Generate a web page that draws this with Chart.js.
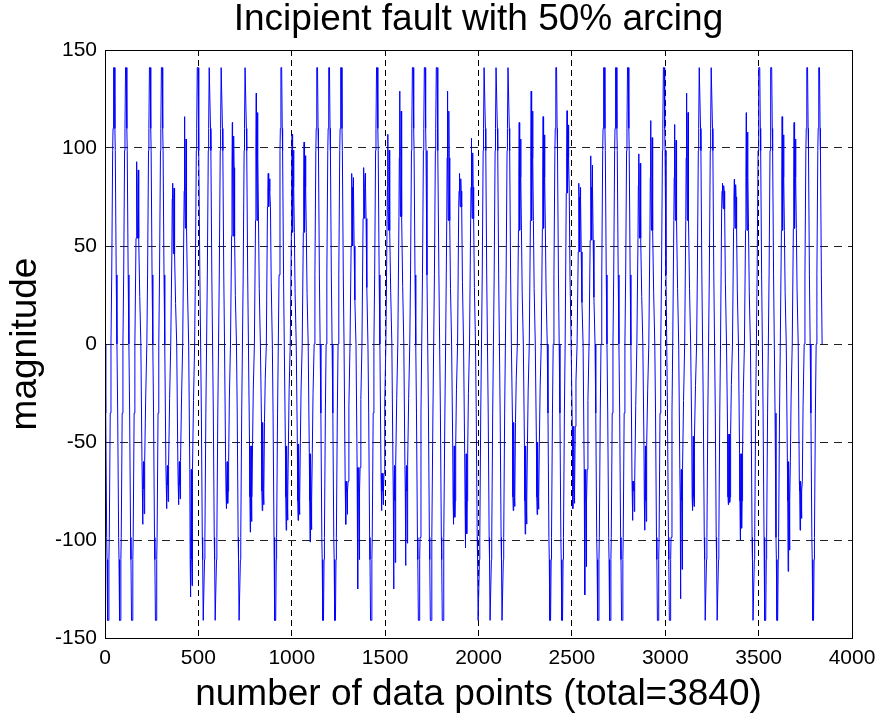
<!DOCTYPE html>
<html>
<head>
<meta charset="utf-8">
<script src="https://cdn.jsdelivr.net/npm/chart.js@4.4.0/dist/chart.umd.min.js"></script>
<style>
  html, body { margin: 0; padding: 0; background: #fff; }
  #wrap { width: 875px; height: 713px; }
</style>
</head>
<body>
<div id="wrap"><canvas id="faultChart" width="875" height="713"></canvas></div>
<script>
// tick labels
const xTicks = [0, 500, 1000, 1500, 2000, 2500, 3000, 3500, 4000];
const yTicks = [-150, -100, -50, 0, 50, 100, 150];

// 60 cycles of 64 samples (total 3840), signal starts going negative
const samplesPerCycle = 64;
const fullPeak = 141;

// normal (clipped) half cycle: offset from zero crossing, part of the peak
const fullOffsets = [0, 4, 9, 11, 14, 18, 21, 23, 28, 32];
const fullShape   = [0, 0.25, 0.7, 0.78, 1, 1, 0.78, 0.7, 0.25, 0];

// arcing half cycle: offset from zero crossing, which read value goes there
const arcOffsets = [0, 6, 8, 10, 11, 14, 16, 18, 19, 22, 26, 32];
const arcKeys    = ['0', 'D', 'L', 'S', 'L', 'D', 'L', 'S2', 'L', 'D', 'D2', '0'];

// read per cycle: null = normal half, [level, spike, dip] = arcing half
const negArc = [
  null, null, null, [-74,-92,-60], null, [-72,-84,-62], [-72,-82,-60], [-110,-129,-64], null, null,
  [-75,-84,-60], null, [-78,-96,-52], [-75,-85,-40], null, [-78,-95,-52], [-80,-90,-51], [-80,-101,-56], null, null,
  [-75,-92,-70], [-75,-125,-63], null, [-75,-85,-66], [-80,-125,-62], [-75,-113,-62], null, null, null, [-80,-92,-52],
  [-80,-104,-56], null, null, null, [-78,-85,-40], [-80,-97,-52], [-78,-87,-50], null, null, [-75,-84,-42],
  [-80,-128,-64], null, null, null, [-75,-90,-70], [-80,-95,-52], null, null, [-80,-130,-64], [-78,-85,-47],
  null, null, [-78,-82,-46], [-80,-100,-56], null, null, null, [-80,-116,-60], [-75,-95,-70], null
];
const posArc = [
  null, null, [79,93,54], null, null, [74,82,46], [78,116,59], null, null, null,
  [90,113,55], null, [95,128,63], [78,87,70], null, [80,107,57], [80,103,57], null, null, null,
  [80,87,50], [80,90,64], null, [80,107,58], [95,129,65], null, null, null, [95,129,63], [78,87,70],
  [80,105,64], null, null, null, [85,113,58], [95,129,63], [85,116,59], null, [95,119,77], [75,82,47],
  [80,96,53], null, null, null, [81,97,54], [85,114,58], null, [85,112,63], [95,128,63], null,
  null, [78,82,69], [75,84,59], [85,118,58], null, null, [85,116,58], [85,113,59], null, null
];

function arc_value(key, a)
{
  if (key == 'L') return a[0];
  if (key == 'S') return a[1];
  if (key == 'D') return a[2];
  if (key == 'S2') return a[0] + 0.7 * (a[1] - a[0]);
  if (key == 'D2') return 0.45 * a[2];
  return 0;
}

function add_half(pts, start, arc, peak)
{
  var i;
  if (arc == null) {
    for (i = 0; i < fullOffsets.length; i++) {
      if (i == 0 && pts.length > 0) continue; // zero point already there
      pts.push({ x: start + fullOffsets[i], y: peak * fullShape[i] });
    }
  } else {
    for (i = 0; i < arcOffsets.length; i++) {
      if (i == 0 && pts.length > 0) continue;
      pts.push({ x: start + arcOffsets[i], y: arc_value(arcKeys[i], arc) });
    }
  }
}

function build_points()
{
  var pts = [];
  for (var k = 0; k < negArc.length; k++) {
    add_half(pts, samplesPerCycle * k, negArc[k], -fullPeak);
    add_half(pts, samplesPerCycle * k + samplesPerCycle / 2, posArc[k], fullPeak);
  }
  return pts;
}

// solid box round the axes, like matlab
const boxPlugin = {
  id: 'boxPlugin',
  afterDraw: function(chart) {
    var a = chart.chartArea;
    var ctx = chart.ctx;
    ctx.save();
    ctx.strokeStyle = '#000';
    ctx.lineWidth = 1;
    ctx.setLineDash([]);
    ctx.strokeRect(Math.round(a.left) + 0.5, Math.round(a.top) + 0.5,
                   Math.round(a.right) - Math.round(a.left), Math.round(a.bottom) - Math.round(a.top));
    ctx.restore();
  }
};

Chart.defaults.font.family = 'Arial, "Liberation Sans", sans-serif';
Chart.defaults.color = '#000';

var ctx = document.getElementById('faultChart').getContext('2d');
var myChart = new Chart(ctx, {
  type: 'scatter',
  data: {
    datasets: [{
      data: build_points(),
      showLine: true,
      borderColor: '#0000ff',
      borderWidth: 1,
      pointRadius: 0,
      fill: false,
      tension: 0
    }]
  },
  options: {
    responsive: false,
    animation: false,
    devicePixelRatio: 1,
    layout: { padding: { left: 0, right: 0, top: 0, bottom: 0 } },
    plugins: {
      legend: { display: false },
      tooltip: { enabled: false },
      title: {
        display: true,
        fullSize: false,
        text: 'Incipient fault with 50% arcing',
        color: '#000',
        font: { size: 37, weight: 'normal', lineHeight: 1 },
        padding: { top: 1, bottom: 12 }
      }
    },
    scales: {
      x: {
        type: 'linear',
        min: 0,
        max: 4000,
        afterBuildTicks: function(s) { s.ticks = xTicks.map(function(v) { return { value: v }; }); },
        afterFit: function(s) { s.height = 75; s.paddingRight = 23; s.paddingLeft = 0; },
        ticks: { font: { size: 21 }, color: '#000', padding: 8, maxRotation: 0, autoSkip: false,
                 callback: function(v) { return String(v); } },
        grid: { color: '#000', lineWidth: 1, drawTicks: false },
        border: { display: true, color: '#000', width: 1, dash: [6, 4] },
        title: {
          display: true,
          text: 'number of data points (total=3840)',
          color: '#000',
          font: { size: 37, weight: 'normal', lineHeight: 1 },
          padding: { top: 4, bottom: 0 }
        }
      },
      y: {
        type: 'linear',
        min: -150,
        max: 150,
        afterBuildTicks: function(s) { s.ticks = yTicks.map(function(v) { return { value: v }; }); },
        afterFit: function(s) { s.width = 105; },
        ticks: { font: { size: 21 }, color: '#000', padding: 8, autoSkip: false,
                 callback: function(v) { return String(v); } },
        grid: { color: '#222', lineWidth: 1, drawTicks: false },
        border: { display: true, color: '#000', width: 1, dash: [8, 6] },
        title: {
          display: true,
          text: 'magnitude',
          color: '#000',
          font: { size: 37, weight: 'normal', lineHeight: 1 },
          padding: { top: 7, bottom: 6 }
        }
      }
    }
  },
  plugins: [boxPlugin]
});
</script>
</body>
</html>
